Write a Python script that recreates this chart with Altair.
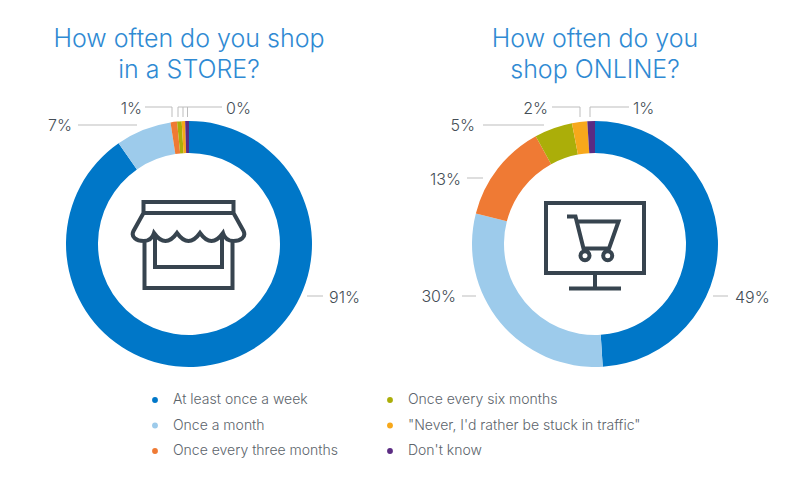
import altair as alt
import pandas as pd

categories = ["At least once a week", "Once a month", "Once every three months",
              "Once every six months", "\"Never, I'd rather be stuck in traffic\"", "Don't know"]
colors = ["#0077c8", "#9dcbeb", "#ef7a34", "#abae09", "#f7a81b", "#5b2c83"]
store_values = [90.3, 7.3, 0.85, 0.6, 0.45, 0.5]
online_values = [49, 30, 13, 5, 2, 1]

FONT = "Inter"
INK = "#454e56"
RULE = "#bdbdbd"
ICON = "#37444f"
TITLE = "#2f8ad3"

titles = [("How often do you shop", 189, 47), ("in a STORE?", 189, 78),
          ("How often do you", 595, 47), ("shop ONLINE?", 595, 78)]
left_labels = [("7%", 72, 125), ("1%", 142, 108), ("30%", 456, 296), ("13%", 461, 179), ("5%", 475, 125), ("2%", 548, 108)]
right_labels = [("0%", 226, 108), ("91%", 329, 297), ("1%", 633, 108), ("49%", 735, 297)]
leaders = [
    (78, 137, 125, 125), (145, 172, 107, 107), (172, 172, 107, 117),
    (178, 222, 107, 107), (178, 178, 107, 117), (183, 183, 107, 117), (187.5, 187.5, 107, 117),
    (307, 323, 296, 296),
    (483, 544, 125, 125), (467, 483, 178, 178), (462, 476, 296, 296), (713, 728, 296, 296),
    (552, 580, 107, 107), (580, 580, 107, 117), (590, 629, 107, 107), (590, 590, 107, 117),
]

STORE_ICON = ("M-45,-42H45V-31H-45Z M-45,-31L-55,-13C-58,-7 -52,-3 -45,-3C-40,-3 -36,-6 -34.5,-11"
              "Q-23,5 -11.5,-11Q0,5 11.5,-11Q23,5 34.5,-11C36,-6 40,-3 45,-3C52,-3 58,-7 55,-13L45,-31"
              " M-44,-3V44H44V-3 M-33.5,-8V23H33.5V-8")
CART_ICON = ("M-49,-41H49V29H-49Z M0,29V44.5 M-26,44.5H26 M-28,-27.5H-19.5L-11.5,4.5H14L23.5,-22.5H-18"
             " M-14.5,11.7a4.5,4.5 0 1,0 9,0a4.5,4.5 0 1,0 -9,0 M8.2,11.7a4.5,4.5 0 1,0 9,0a4.5,4.5 0 1,0 -9,0")

X = alt.X("x:Q", scale=alt.Scale(domain=[8, 792], range=[0, 784], nice=False, zero=False), axis=None)
Y = alt.Y("y:Q", scale=alt.Scale(domain=[8, 469], range=[0, 461], nice=False, zero=False), axis=None)

COLOR = alt.Color("cat:N", scale=alt.Scale(domain=categories, range=colors),
                  legend=alt.Legend(title=None, orient="none", legendX=140, legendY=385, columns=2,
                                    symbolType="circle", symbolSize=34, symbolStrokeWidth=0,
                                    labelFont=FONT, labelFontSize=14, labelColor="#5c646b",
                                    labelFontWeight=300, columnPadding=45, rowPadding=11.5,
                                    labelOffset=11, labelLimit=320, symbolOffset=0))

def donut(values, cx):
    df = pd.DataFrame({"cat": categories, "v": values, "i": range(len(values)), "x": cx, "y": 244})
    return alt.Chart(df).mark_arc(radius=123, radius2=91, stroke=None).encode(
        x=X, y=Y,
        theta=alt.Theta("v:Q", stack=True),
        order=alt.Order("i:Q"),
        color=COLOR,
    )

lead = alt.Chart(pd.DataFrame(leaders, columns=["x", "x2", "y", "y2"])).mark_rule(color=RULE, strokeWidth=1).encode(
    x=X, x2="x2:Q", y=Y, y2="y2:Q")

def text_layer(data, align, size, color, weight):
    return alt.Chart(pd.DataFrame(data, columns=["t", "x", "y"])).mark_text(
        align=align, baseline="alphabetic", font=FONT, fontSize=size, color=color, fontWeight=weight
    ).encode(x=X, y=Y, text="t:N")

title_l = text_layer(titles, "center", 25, TITLE, 300)
lab_l = text_layer([(t, x, y + 6) for t, x, y in left_labels], "right", 16, INK, 300)
lab_r = text_layer([(t, x, y + 6) for t, x, y in right_labels], "left", 16, INK, 300)

def icon(path, cx):
    return alt.Chart(pd.DataFrame({"x": [cx], "y": [244]})).mark_point(
        shape=path, size=4, filled=False, stroke=ICON, strokeWidth=4, opacity=1
    ).encode(x=X, y=Y)

chart = alt.layer(donut(store_values, 189), donut(online_values, 595), lead, title_l, lab_l, lab_r,
                  icon(STORE_ICON, 188.5), icon(CART_ICON, 595)).properties(
    width=784, height=461, padding=0, autosize=alt.AutoSizeParams(type="none"), background="white"
).configure_view(stroke=None)

chart.save("out.html", embed_options={"renderer": "svg", "actions": False})
